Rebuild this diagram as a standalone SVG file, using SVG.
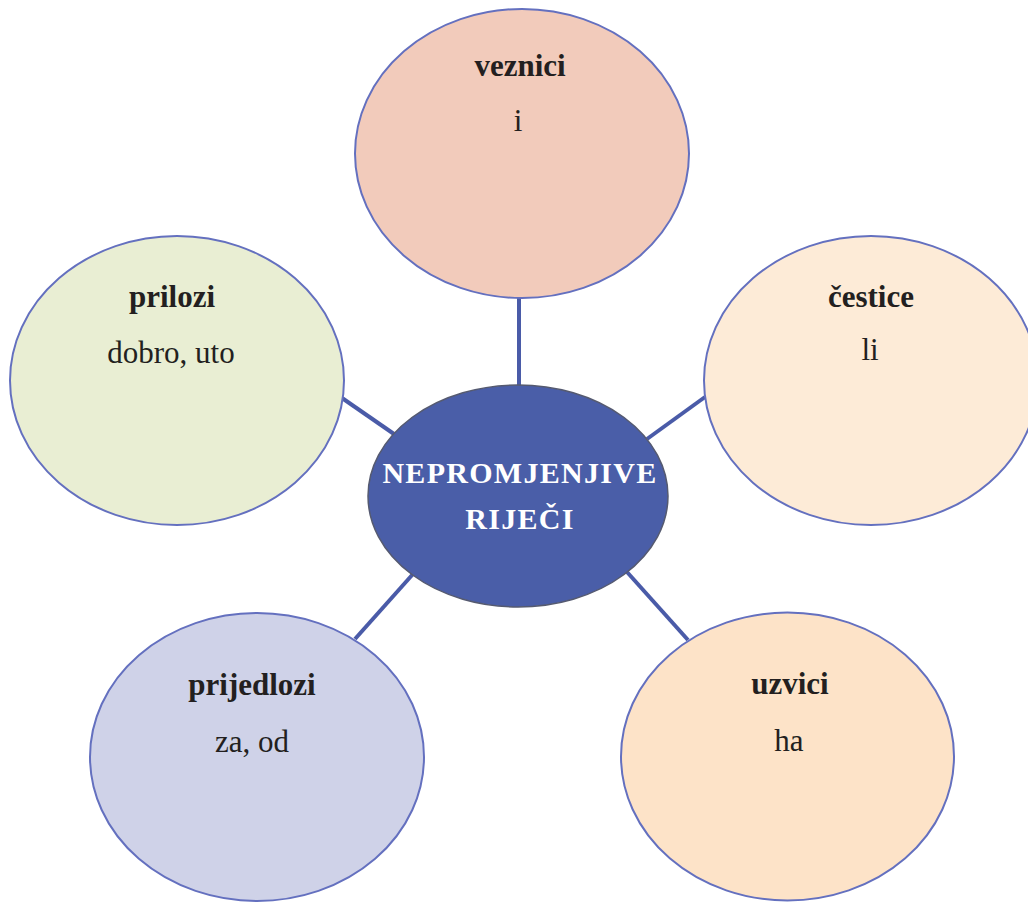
<svg xmlns="http://www.w3.org/2000/svg" width="1028" height="902" viewBox="0 0 1028 902">
  <style>
    .bubble { stroke: #6470bf; stroke-width: 2; }
    .title { font-family: "Liberation Serif", "Times New Roman", serif; font-weight: bold; font-size: 31px; fill: #231f20; text-anchor: middle; }
    .ex { font-family: "Liberation Serif", "Times New Roman", serif; font-size: 31px; fill: #231f20; text-anchor: middle; }
    .center { font-family: "Liberation Serif", "Times New Roman", serif; font-weight: bold; font-size: 30px; fill: #ffffff; text-anchor: middle; letter-spacing: 1.3px; }
    .link { stroke: #4a5ba8; stroke-width: 4; fill: none; }
  </style>
  <rect width="1028" height="902" fill="#ffffff"/>
  <g id="connectors">
    <line class="link" x1="519" y1="298" x2="519" y2="386"/>
    <line class="link" x1="342" y1="398" x2="394" y2="434"/>
    <line class="link" x1="705" y1="397" x2="647" y2="439"/>
    <line class="link" x1="413" y1="574" x2="355" y2="639"/>
    <line class="link" x1="627" y1="572" x2="688" y2="640"/>
  </g>
  <g id="node-veznici">
    <ellipse class="bubble" cx="522" cy="153.5" rx="167" ry="144.5" fill="#f2cbbb"/>
    <text class="title" x="520" y="76">veznici</text>
    <text class="ex" x="518" y="131">i</text>
  </g>
  <g id="node-cestice">
    <ellipse class="bubble" cx="871" cy="380.5" rx="167" ry="144.5" fill="#fdebd7"/>
    <text class="title" x="871" y="307">čestice</text>
    <text class="ex" x="870" y="360">li</text>
  </g>
  <g id="node-prilozi">
    <ellipse class="bubble" cx="177" cy="380.5" rx="167" ry="144.5" fill="#e9eed3"/>
    <text class="title" x="172" y="307">prilozi</text>
    <text class="ex" x="171" y="363">dobro, uto</text>
  </g>
  <g id="node-prijedlozi">
    <ellipse class="bubble" cx="257" cy="757" rx="167" ry="144" fill="#cfd2e8"/>
    <text class="title" x="252" y="695">prijedlozi</text>
    <text class="ex" x="252" y="752">za, od</text>
  </g>
  <g id="node-uzvici">
    <ellipse class="bubble" cx="787.5" cy="756.5" rx="166.5" ry="144" fill="#fde3c8"/>
    <text class="title" x="790" y="694">uzvici</text>
    <text class="ex" x="789" y="751">ha</text>
  </g>
  <g id="node-center">
    <ellipse cx="518" cy="496" rx="150" ry="111" fill="#4a5ea8" stroke="#555a70" stroke-width="1.5"/>
    <text class="center" x="520" y="483">NEPROMJENJIVE</text>
    <text class="center" x="520" y="529">RIJEČI</text>
  </g>
</svg>
